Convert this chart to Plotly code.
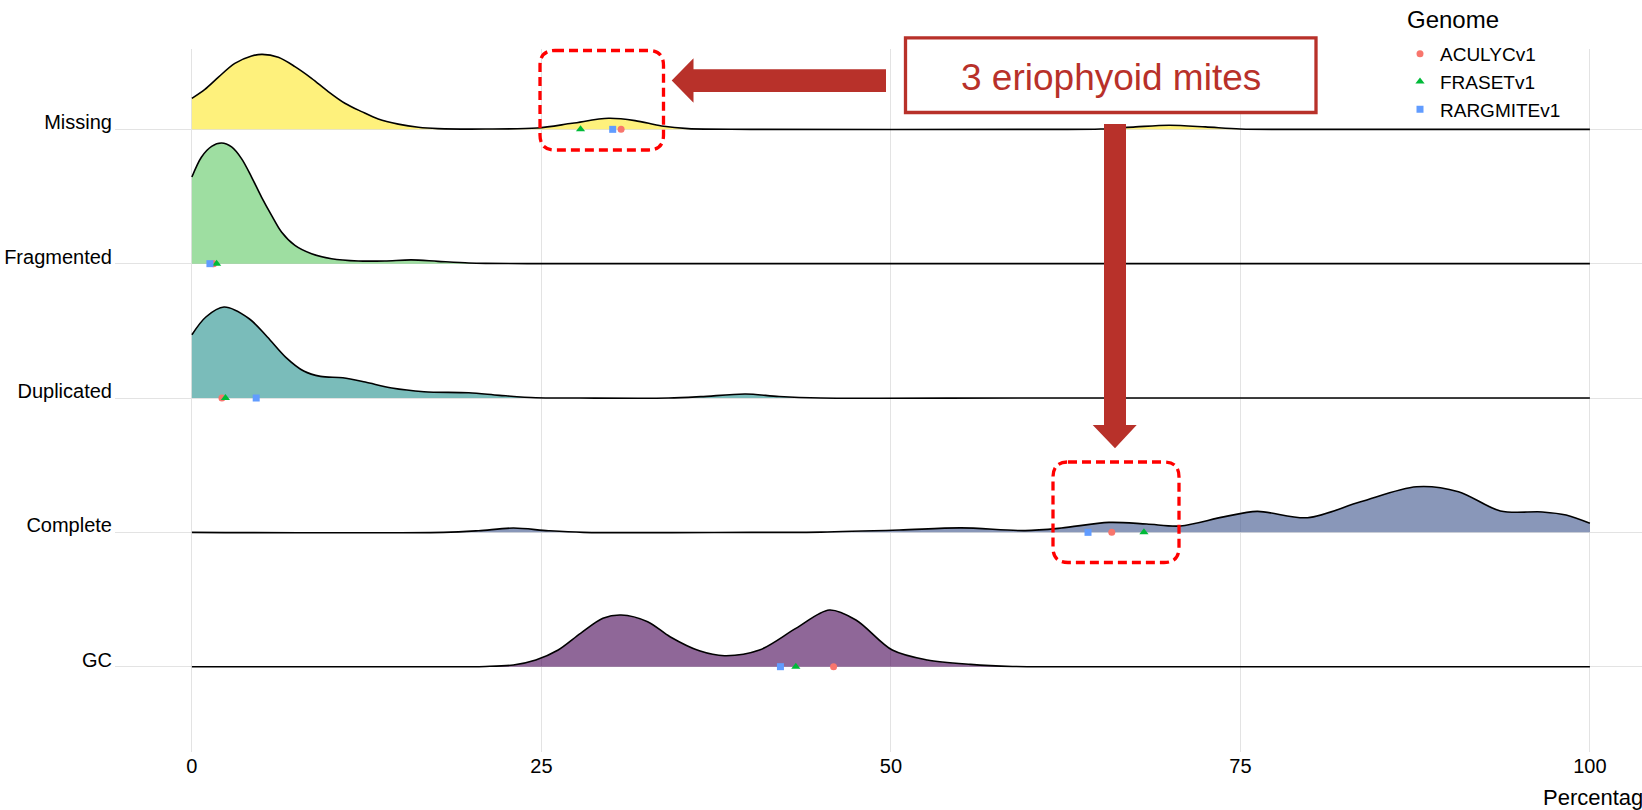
import plotly.graph_objects as go

# ---------------- data ----------------
categories = ["GC", "Complete", "Duplicated", "Fragmented", "Missing"]
cat_pos = [1, 2, 3, 4, 5]
ridge_colors = ["rgba(68,1,84,0.6)", "rgba(59,82,139,0.6)", "rgba(33,144,140,0.6)",
                "rgba(93,200,99,0.6)", "rgba(253,231,37,0.6)"]

# density outlines (x = percentage, h = ridge height in category units)
gc_x = [0, 15, 21.0, 23.0, 24.6, 26.2, 27.8, 29.4, 30.7, 32.6, 34.2, 36.3, 38.1, 40.6,
        43.2, 45.6, 47.5, 50.1, 52.6, 55.7, 58.7, 62, 80, 100]
gc_h = [0, 0, 0.002, 0.013, 0.05, 0.124, 0.248, 0.36, 0.385, 0.335, 0.223, 0.118, 0.082,
        0.124, 0.285, 0.422, 0.348, 0.124, 0.05, 0.017, 0.002, 0, 0, 0]

complete_x = [0, 18, 20.5, 23.0, 25.5, 28, 40, 45, 50.6, 55.0, 59.6, 62.2, 65.6, 68.3,
              70.7, 73.8, 76.2, 79.8, 83.6, 87.6, 90.6, 93.6, 96.6, 98.3, 100]
complete_h = [0, 0, 0.012, 0.032, 0.012, 0, 0, 0.002, 0.017, 0.033, 0.013, 0.032, 0.074,
              0.062, 0.047, 0.115, 0.156, 0.109, 0.228, 0.34, 0.303, 0.159, 0.152, 0.129, 0.067]

duplicated_x = [0, 1.0, 2.3, 4.1, 5.4, 6.7, 8.0, 9.2, 10.8, 12.4, 14.3, 16.6, 19.8, 22.0,
                24.6, 27.7, 34.1, 36.4, 39.6, 42, 45, 60, 100]
duplicated_h = [0.471, 0.603, 0.677, 0.590, 0.454, 0.305, 0.201, 0.161, 0.151, 0.119, 0.074,
                0.047, 0.039, 0.02, 0.002, 0, 0, 0.01, 0.03, 0.011, 0, 0, 0]

fragmented_x = [0, 0.69, 1.41, 2.12, 2.84, 3.55, 4.27, 4.98, 5.7, 6.41, 7.37, 8.56, 9.99,
                11.9, 13.8, 15.7, 17.6, 19.8, 21, 24, 40, 100]
fragmented_h = [0.645, 0.794, 0.873, 0.898, 0.869, 0.782, 0.645, 0.496, 0.36, 0.236, 0.136,
                0.074, 0.037, 0.02, 0.02, 0.028, 0.017, 0.005, 0.002, 0, 0, 0]

missing_x = [0, 0.93, 1.88, 3.07, 4.27, 5.03, 6.18, 7.37, 8.56, 9.75, 10.94, 12.14, 13.33,
             14.76, 16.2, 17.6, 21, 24.7, 27.2, 29.8, 31.7, 33.6, 35.5, 40, 60, 65, 67.5,
             69.9, 72.5, 75, 80, 100]
missing_h = [0.231, 0.298, 0.387, 0.491, 0.546, 0.558, 0.536, 0.467, 0.38, 0.281, 0.194,
             0.132, 0.077, 0.039, 0.015, 0.005, 0.002, 0.01, 0.045, 0.082, 0.065, 0.025,
             0.005, 0, 0, 0.002, 0.018, 0.03, 0.018, 0.002, 0, 0]

ridges_x = [gc_x, complete_x, duplicated_x, fragmented_x, missing_x]
ridges_h = [gc_h, complete_h, duplicated_h, fragmented_h, missing_h]

# genome values (GC, Complete, Duplicated, Fragmented, Missing)
genomes = ["ACULYCv1", "FRASETv1", "RARGMITEv1"]
aculyc_vals = [45.9, 65.8, 2.15, 1.55, 30.7]
fraset_vals = [43.2, 68.1, 2.4, 1.77, 27.8]
rargmite_vals = [42.1, 64.1, 4.6, 1.29, 30.1]
genome_vals = [aculyc_vals, fraset_vals, rargmite_vals]
genome_colors = ["#F8766D", "#00BA38", "#619CFF"]
genome_symbols = ["circle", "triangle-up", "square"]
genome_sizes = [7, 8, 7]

x_ticks = [0, 25, 50, 75, 100]
callout_text = "3 eriophyoid mites"
x_title = "Percentage"
legend_title = "Genome"

FONT = "Liberation Sans, Arial, Helvetica, sans-serif"
ARROW = "#B8312A"

fig = go.Figure()

# ridges (top first so lower ridges lie in front)
for k in range(len(categories) - 1, -1, -1):
    base = cat_pos[k]
    xs = ridges_x[k]
    ys = [base + h for h in ridges_h[k]]
    fig.add_trace(go.Scatter(x=[xs[0], xs[-1]], y=[base, base], mode="lines",
                             line=dict(width=0, color="rgba(0,0,0,0)"),
                             showlegend=False, hoverinfo="skip"))
    fig.add_trace(go.Scatter(x=xs, y=ys, mode="lines", fill="tonexty",
                             fillcolor=ridge_colors[k],
                             line=dict(color="black", width=1.6, shape="spline", smoothing=0.9),
                             showlegend=False, hoverinfo="skip"))

# points
for g, vals, col, sym, sz in zip(genomes, genome_vals, genome_colors, genome_symbols, genome_sizes):
    fig.add_trace(go.Scatter(x=vals, y=cat_pos, mode="markers", name=g,
                             marker=dict(color=col, symbol=sym, size=sz, line=dict(width=0))))

# ---------------- layout geometry (screen pixels) ----------------
W, H = 1642, 810
PL, PT, PB = 115, 49, 752                 # plot area edges
PW = W - PL                               # plot width
PH = PB - PT

def PX(px):
    return (px - PL) / PW

def PY(py):
    return (PB - py) / PH

def rrect(x0, y0, x1, y1, r):
    pts = [
        f"M {PX(x0 + r)},{PY(y0)}", f"L {PX(x1 - r)},{PY(y0)}", f"Q {PX(x1)},{PY(y0)} {PX(x1)},{PY(y0 + r)}",
        f"L {PX(x1)},{PY(y1 - r)}", f"Q {PX(x1)},{PY(y1)} {PX(x1 - r)},{PY(y1)}",
        f"L {PX(x0 + r)},{PY(y1)}", f"Q {PX(x0)},{PY(y1)} {PX(x0)},{PY(y1 - r)}",
        f"L {PX(x0)},{PY(y0 + r)}", f"Q {PX(x0)},{PY(y0)} {PX(x0 + r)},{PY(y0)}", "Z"]
    return " ".join(pts)

def poly(points):
    s = " ".join(("M" if i == 0 else "L") + f" {PX(p[0])},{PY(p[1])}" for i, p in enumerate(points))
    return s + " Z"

shapes = []
for box in [(540, 50.5, 663.5, 150), (1053, 462, 1179, 562.5)]:
    shapes.append(dict(type="path", xref="paper", yref="paper", path=rrect(*box, 15), layer="above",
                       line=dict(color="#FF0000", width=3.3, dash="9px,5px"),
                       fillcolor="rgba(0,0,0,0)"))
# left arrow
shapes.append(dict(type="path", xref="paper", yref="paper", layer="above", fillcolor=ARROW,
                   line=dict(width=0),
                   path=poly([(671.7, 80.6), (693.5, 58.3), (693.5, 69.3), (886, 69.3),
                              (886, 92), (693.5, 92), (693.5, 102.8)])))
# down arrow
shapes.append(dict(type="path", xref="paper", yref="paper", layer="above", fillcolor=ARROW,
                   line=dict(width=0),
                   path=poly([(1104, 124), (1126, 124), (1126, 425), (1136.7, 425),
                              (1115, 448.3), (1092.7, 425), (1104, 425)])))
# callout box
shapes.append(dict(type="rect", xref="paper", yref="paper", layer="above",
                   x0=PX(905.5), x1=PX(1316), y0=PY(37.8), y1=PY(112.5),
                   line=dict(color=ARROW, width=3.3), fillcolor="white"))

annotations = [
    dict(x=PX(1110.7), y=PY(77.5), xref="paper", yref="paper", text=callout_text, showarrow=False,
         font=dict(family=FONT, size=37, color=ARROW), xanchor="center", yanchor="middle"),
    dict(x=PX(1541), y=PY(797), xref="paper", yref="paper",
         text=x_title, showarrow=False, xanchor="left", yanchor="middle",
         font=dict(family=FONT, size=22, color="black")),
    dict(x=PX(1405), y=PY(19.5), xref="paper", yref="paper",
         text=legend_title, showarrow=False, xanchor="left", yanchor="middle",
         font=dict(family=FONT, size=24, color="black")),
]

x_left = -5.5
x_right = x_left + PW / 13.98

fig.update_layout(
    width=W, height=H,
    margin=dict(l=PL, r=0, t=PT, b=H - PB, autoexpand=False),
    paper_bgcolor="white", plot_bgcolor="white",
    font=dict(family=FONT, color="black"),
    shapes=shapes, annotations=annotations,
    showlegend=True,
    legend=dict(font=dict(family=FONT, size=19, color="black"),
                traceorder="normal",
                x=PX(1400), xanchor="left", y=PY(35), yanchor="top",
                bgcolor="rgba(0,0,0,0)", itemsizing="trace"),
)
fig.update_xaxes(range=[x_left, x_right], tickvals=x_ticks, ticktext=[str(t) for t in x_ticks],
                 showgrid=True, gridcolor="#E3E3E3", gridwidth=1.2, zeroline=False, automargin=False,
                 showline=False, ticks="", tickfont=dict(family=FONT, size=20, color="black"))
fig.update_yaxes(range=[0.365, 5.598], tickvals=cat_pos, ticktext=categories,
                 showgrid=True, gridcolor="#E3E3E3", gridwidth=1.2, zeroline=False, automargin=False,
                 showline=False, ticks="", ticklabelshift=-7, ticklabelstandoff=2,
                 tickfont=dict(family=FONT, size=20, color="black"))

fig.write_html("out.html", config={"displayModeBar": False},
               post_script="document.body.style.margin='0';document.body.style.padding='0';")
